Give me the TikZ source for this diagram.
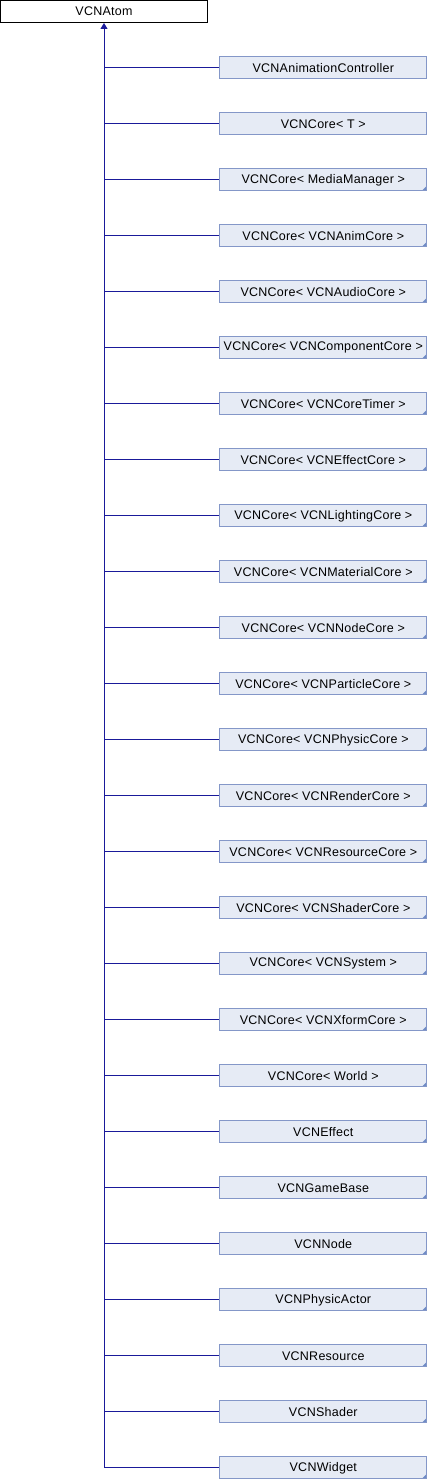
\documentclass[tikz,border=0pt]{standalone}
\usepackage{fontspec}
\setmainfont{Liberation Sans}[LetterSpace=2]
\usetikzlibrary{arrows.meta}
\definecolor{edgeblue}{HTML}{1A1A9A}
\definecolor{boxborder}{HTML}{8497C8}
\definecolor{boxfill}{HTML}{E6EBF5}
\definecolor{tricol}{HTML}{6F8CC6}
\tikzset{
  basebox/.style={draw=black, fill=white, line width=1bp, minimum width=207bp, minimum height=22bp, inner sep=0pt, font=\fontsize{12.5bp}{14bp}\selectfont},
  childbox/.style={draw=boxborder, fill=boxfill, line width=1bp, minimum width=207bp, minimum height=22bp, inner sep=0pt, font=\fontsize{12.5bp}{14bp}\selectfont},
  morebox/.style={childbox, path picture={\fill[tricol] (path picture bounding box.south east) -- ++(-5bp,0) -- ++(5bp,5bp) -- cycle;}},
  inherit/.style={draw=edgeblue, line width=1bp},
}
\begin{document}
\begin{tikzpicture}[x=1bp,y=-1bp]
\useasboundingbox (0,0) rectangle (428,1480);
\node[basebox] (atom) at (104,11.5) {VCNAtom};
\foreach \name [count=\i from 0] in {
  VCNAnimationController,
  VCNCore< T >,
  VCNCore< MediaManager >,
  VCNCore< VCNAnimCore >,
  VCNCore< VCNAudioCore >,
  VCNCore< VCNComponentCore >,
  VCNCore< VCNCoreTimer >,
  VCNCore< VCNEffectCore >,
  VCNCore< VCNLightingCore >,
  VCNCore< VCNMaterialCore >,
  VCNCore< VCNNodeCore >,
  VCNCore< VCNParticleCore >,
  VCNCore< VCNPhysicCore >,
  VCNCore< VCNRenderCore >,
  VCNCore< VCNResourceCore >,
  VCNCore< VCNShaderCore >,
  VCNCore< VCNSystem >,
  VCNCore< VCNXformCore >,
  VCNCore< World >,
  VCNEffect,
  VCNGameBase,
  VCNNode,
  VCNPhysicActor,
  VCNResource,
  VCNShader,
  VCNWidget}
{
  \pgfmathsetmacro{\yy}{67.8+56*\i}
  \ifnum\i<2
    \node[childbox] (c\i) at (323.3,\yy) {\name};
  \else
    \node[morebox] (c\i) at (323.3,\yy) {\name};
  \fi
  \coordinate (j\i) at (104,\yy);
  \draw[inherit] (j\i) -- (c\i.west);
}
\draw[inherit, -{Triangle[width=7bp,length=6bp]}] (j25) -- (atom.south);
\end{tikzpicture}
\end{document}
